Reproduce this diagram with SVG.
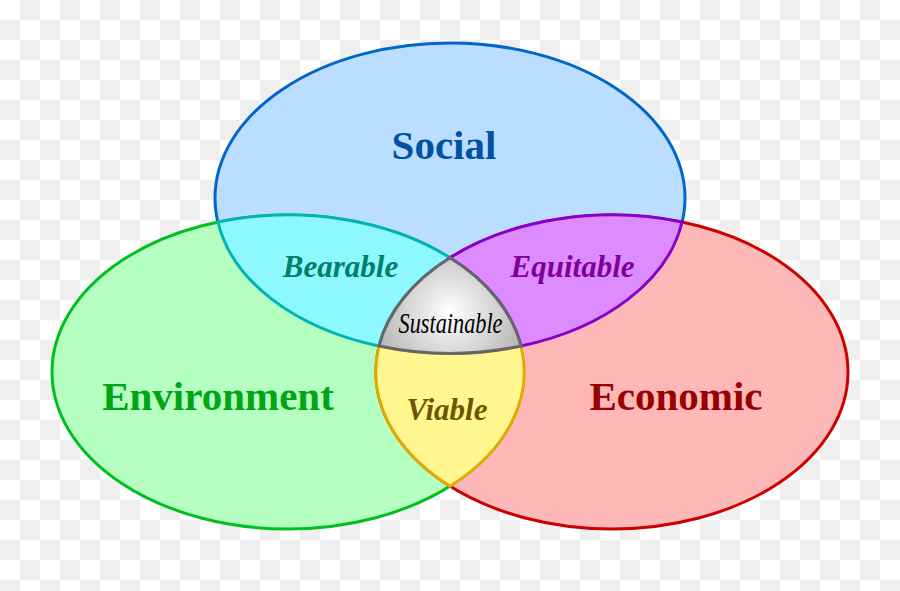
<svg xmlns="http://www.w3.org/2000/svg" width="900" height="591" viewBox="0 0 900 591">
  <defs>
    <pattern id="checker" width="40" height="40" patternUnits="userSpaceOnUse">
      <rect width="40" height="40" fill="#ffffff"/>
      <rect x="20" y="0" width="20" height="20" fill="#efefef"/>
      <rect x="0" y="20" width="20" height="20" fill="#efefef"/>
    </pattern>
    <radialGradient id="grey" cx="450" cy="312" r="78" gradientUnits="userSpaceOnUse">
      <stop offset="0" stop-color="#ffffff"/>
      <stop offset="1" stop-color="#b4b4b4"/>
    </radialGradient>
    <style>
      .shape { stroke-width: 3; }
      .big { font-family: "Liberation Serif", "Times New Roman", serif; font-weight: bold; font-size: 41px; text-anchor: middle; }
      .mid { font-family: "Liberation Serif", "Times New Roman", serif; font-weight: bold; font-style: italic; font-size: 31px; text-anchor: middle; }
      .small { font-family: "Liberation Serif", "Times New Roman", serif; font-style: italic; font-size: 30px; text-anchor: middle; fill: #000000; }
    </style>
  </defs>

  <rect width="900" height="591" fill="url(#checker)"/>

  <g id="social">
    <ellipse class="shape" cx="450" cy="198" rx="235" ry="155" fill="#bbddff" stroke="#0066cc"/>
    <text class="big" x="444" y="159" fill="#0052a3">Social</text>
  </g>

  <g id="environment">
    <ellipse class="shape" cx="288" cy="372" rx="236" ry="157" fill="#b5ffc0" stroke="#00c020"/>
    <text class="big" x="218" y="410" fill="#00a514">Environment</text>
  </g>

  <g id="economic">
    <ellipse class="shape" cx="612" cy="372" rx="236" ry="157" fill="#ffb8b8" stroke="#cc0000"/>
    <text class="big" x="676" y="410" fill="#990000">Economic</text>
  </g>

  <g id="bearable">
    <path class="shape" d="M 218 222 A 236 157 0 0 1 450 257.8 A 236 157 0 0 0 379 346 A 235 155 0 0 1 218 222 Z" fill="#8ef8ff" stroke="#00b4b4"/>
    <text class="mid" x="340.5" y="277" fill="#00806a">Bearable</text>
  </g>

  <g id="equitable">
    <path class="shape" d="M 682 222 A 236 157 0 0 0 450 257.8 A 236 157 0 0 1 521 346 A 235 155 0 0 0 682 222 Z" fill="#dd8cff" stroke="#8800cc"/>
    <text class="mid" x="572.5" y="277" fill="#7f0099">Equitable</text>
  </g>

  <g id="viable">
    <path class="shape" d="M 379 346 A 235 155 0 0 0 521 346 A 236 157 0 0 1 450 486.2 A 236 157 0 0 1 379 346 Z" fill="#fff690" stroke="#e0aa00"/>
    <text class="mid" x="447" y="420" fill="#6e5500">Viable</text>
  </g>

  <g id="sustainable">
    <path class="shape" d="M 450 257.8 A 236 157 0 0 0 379 346 A 235 155 0 0 0 521 346 A 236 157 0 0 0 450 257.8 Z" fill="url(#grey)" stroke="#666666"/>
    <text class="small" x="450.5" y="333" textLength="104" lengthAdjust="spacingAndGlyphs">Sustainable</text>
  </g>

  <g id="connectors"/>
</svg>
